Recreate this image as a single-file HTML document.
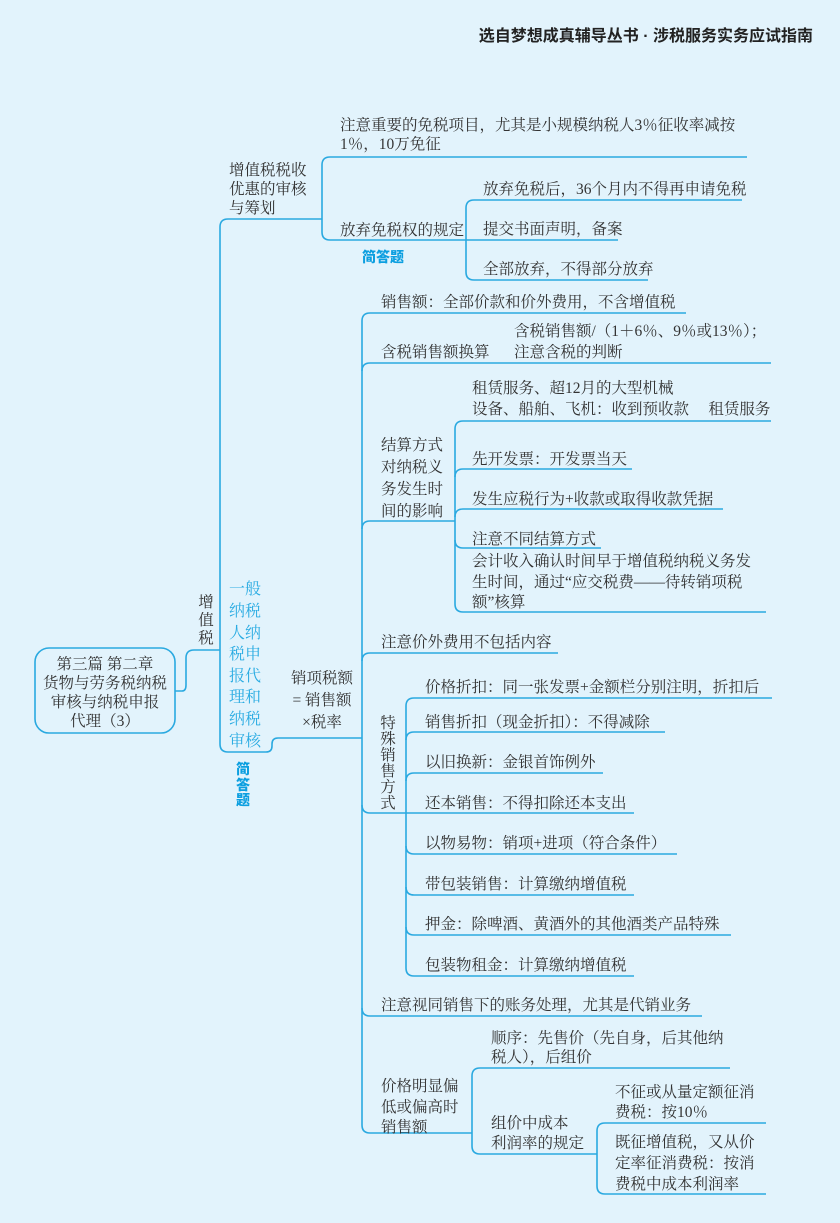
<!DOCTYPE html>
<html><head><meta charset="utf-8">
<style>
html,body{margin:0;padding:0;background:#e2f3fc;}
svg{display:block;}
.t{font-family:"Liberation Serif","Noto Serif CJK SC",serif;font-size:15.5px;fill:#333;}
.b{font-family:"Liberation Serif","Noto Serif CJK SC",serif;font-size:16px;fill:#29abe2;}
.k{font-family:"Liberation Sans","Noto Sans CJK SC",sans-serif;font-weight:900;font-size:14px;fill:#0c9fe0;}
</style></head>
<body>
<svg width="840" height="1223" viewBox="0 0 840 1223" xmlns="http://www.w3.org/2000/svg">
<rect width="840" height="1223" fill="#e2f3fc"/>
<text x="813" y="41" text-anchor="end" style="font-family:'Liberation Sans','Noto Sans CJK SC',sans-serif;font-weight:bold;font-size:16px;fill:#222">选自梦想成真辅导丛书 · 涉税服务实务应试指南</text>

<g fill="none" stroke="#2aa9e0" stroke-width="1.6">
<rect x="35" y="648" width="140" height="85" rx="14"/>
<path d="M175,691 L182,691 Q186,691 186,685 L186,658 Q186,650 194,650 L220,650"/>
<path d="M220,227 Q220,219 228,219 L322,219"/>
<path d="M220,227 L220,744 Q220,752 228,752 L266,752 Q272,752 272,746 L272,744 Q272,738 278,738 L362,738"/>
<path d="M322,165 Q322,157 330,157 L747,157"/>
<path d="M322,165 L322,232 Q322,240 330,240 L466,240"/>
<path d="M466,208 Q466,200 474,200 L742,200"/>
<path d="M466,208 L466,272 Q466,280 474,280 L648,280"/>
<path d="M466,240 L618,240"/>
<path d="M362,321 Q362,313 370,313 L686,313"/>
<path d="M362,321 L362,1125 Q362,1133 370,1133 L472,1133"/>
<path d="M362,371 Q362,363 370,363 L771,363"/>
<path d="M362,529 Q362,521 370,521 L455,521"/>
<path d="M362,661 Q362,653 370,653 L558,653"/>
<path d="M362,805 Q362,813 370,813 L406,813"/>
<path d="M362,1008 Q362,1016 370,1016 L702,1016"/>
<path d="M455,429 Q455,421 463,421 L771,421"/>
<path d="M455,429 L455,604 Q455,612 463,612 L766,612"/>
<path d="M455,477 Q455,469 463,469 L632,469"/>
<path d="M455,517 Q455,509 463,509 L723,509"/>
<path d="M455,540 Q455,548 463,548 L601,548"/>
<path d="M406,706 Q406,698 414,698 L772,698"/>
<path d="M406,706 L406,968 Q406,976 414,976 L634,976"/>
<path d="M406,740 Q406,732 414,732 L665,732"/>
<path d="M406,781 Q406,773 414,773 L603,773"/>
<path d="M406,813 L634,813"/>
<path d="M406,846 Q406,854 414,854 L677,854"/>
<path d="M406,887 Q406,895 414,895 L634,895"/>
<path d="M406,927 Q406,935 414,935 L731,935"/>
<path d="M472,1076 Q472,1068 480,1068 L730,1068"/>
<path d="M472,1076 L472,1146 Q472,1154 480,1154 L597,1154"/>
<path d="M597,1131 Q597,1123 605,1123 L766,1123"/>
<path d="M597,1131 L597,1186 Q597,1194 605,1194 L766,1194"/>
</g>

<g class="t" text-anchor="middle">
<text x="105" y="669">第三篇  第二章</text>
<text x="105" y="688">货物与劳务税纳税</text>
<text x="105" y="707">审核与纳税申报</text>
<text x="105" y="726">代理（3）</text>
<text x="206" y="607">增</text>
<text x="206" y="625">值</text>
<text x="206" y="643">税</text>
<text x="322" y="683">销项税额</text>
<text x="322" y="705">= 销售额</text>
<text x="322" y="727">×税率</text>
<text x="388" y="728">特</text>
<text x="388" y="744">殊</text>
<text x="388" y="760">销</text>
<text x="388" y="776">售</text>
<text x="388" y="792">方</text>
<text x="388" y="808">式</text>
</g>

<g class="b">
<text x="229" y="594">一般</text>
<text x="229" y="616">纳税</text>
<text x="229" y="638">人纳</text>
<text x="229" y="659">税申</text>
<text x="229" y="681">报代</text>
<text x="229" y="702">理和</text>
<text x="229" y="724">纳税</text>
<text x="229" y="746">审核</text>
</g>
<g class="k" text-anchor="middle">
<text x="243" y="774">简</text>
<text x="243" y="790">答</text>
<text x="243" y="805">题</text>
</g>
<text class="k" x="362" y="262">简答题</text>

<g class="t">
<text x="229" y="175">增值税税收</text>
<text x="229" y="194">优惠的审核</text>
<text x="229" y="213">与筹划</text>
<text x="340" y="130">注意重要的免税项目，尤其是小规模纳税人3％征收率减按</text>
<text x="340" y="149">1％，10万免征</text>
<text x="340" y="235">放弃免税权的规定</text>
<text x="483" y="194">放弃免税后，36个月内不得再申请免税</text>
<text x="483" y="234">提交书面声明，备案</text>
<text x="483" y="274">全部放弃，不得部分放弃</text>

<text x="381" y="307">销售额：全部价款和价外费用，不含增值税</text>
<text x="514" y="336">含税销售额/（1＋6％、9％或13％）；</text>
<text x="514" y="357">注意含税的判断</text>
<text x="381" y="357">含税销售额换算</text>
<text x="381" y="450">结算方式</text>
<text x="381" y="472">对纳税义</text>
<text x="381" y="494">务发生时</text>
<text x="381" y="516">间的影响</text>
<text x="472" y="393">租赁服务、超12月的大型机械</text>
<text x="472" y="414">设备、船舶、飞机：收到预收款　 租赁服务</text>
<text x="472" y="464">先开发票：开发票当天</text>
<text x="472" y="504">发生应税行为+收款或取得收款凭据</text>
<text x="472" y="544">注意不同结算方式</text>
<text x="472" y="566">会计收入确认时间早于增值税纳税义务发</text>
<text x="472" y="587">生时间，通过“应交税费——待转销项税</text>
<text x="472" y="607">额”核算</text>
<text x="381" y="647">注意价外费用不包括内容</text>
<text x="425" y="692">价格折扣：同一张发票+金额栏分别注明，折扣后</text>
<text x="425" y="727">销售折扣（现金折扣）：不得减除</text>
<text x="425" y="767">以旧换新：金银首饰例外</text>
<text x="425" y="808">还本销售：不得扣除还本支出</text>
<text x="425" y="848">以物易物：销项+进项（符合条件）</text>
<text x="425" y="889">带包装销售：计算缴纳增值税</text>
<text x="425" y="929">押金：除啤酒、黄酒外的其他酒类产品特殊</text>
<text x="425" y="970">包装物租金：计算缴纳增值税</text>
<text x="381" y="1010">注意视同销售下的账务处理，尤其是代销业务</text>
<text x="381" y="1091">价格明显偏</text>
<text x="381" y="1112">低或偏高时</text>
<text x="381" y="1132">销售额</text>
<text x="491" y="1043">顺序：先售价（先自身，后其他纳</text>
<text x="491" y="1062">税人），后组价</text>
<text x="491" y="1128">组价中成本</text>
<text x="491" y="1148">利润率的规定</text>
<text x="615" y="1097">不征或从量定额征消</text>
<text x="615" y="1117">费税：按10％</text>
<text x="615" y="1147">既征增值税，又从价</text>
<text x="615" y="1168">定率征消费税：按消</text>
<text x="615" y="1189">费税中成本利润率</text>
</g>
</svg>
</body></html>
